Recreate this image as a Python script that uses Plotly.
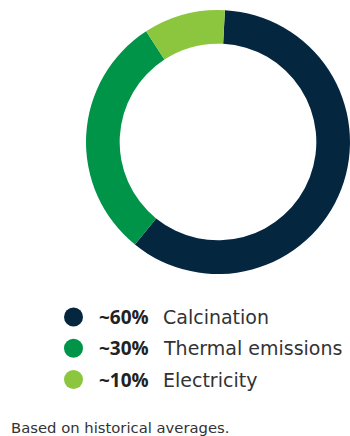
import plotly.graph_objects as go

# Emission sources and their approximate shares
categories = ["Calcination", "Thermal emissions", "Electricity"]
shares = [60, 30, 10]
share_labels = ["~60%", "~30%", "~10%"]
colors = ["#04263F", "#009448", "#8CC63F"]
footnote = "Based on historical averages."

W, H = 350, 436

fig = go.Figure()

fig.add_trace(go.Pie(
    values=shares,
    labels=categories,
    marker=dict(colors=colors, line=dict(width=0)),
    hole=0.745,
    sort=False,
    direction="clockwise",
    rotation=3,
    textinfo="none",
    hoverinfo="label+percent",
    showlegend=False,
    domain=dict(x=[86 / W, 350 / W], y=[(H - 274) / H, (H - 10) / H]),
))

# Custom legend rows drawn on a pixel-scaled overlay axis
row_y0, row_step = 317, 31.25
rows_y = [row_y0 + i * row_step for i in range(len(categories))]

fig.add_trace(go.Scatter(
    x=[73.5] * len(categories),
    y=rows_y,
    mode="markers",
    marker=dict(size=19, color=colors, line=dict(width=0)),
    hoverinfo="skip",
    showlegend=False,
    cliponaxis=False,
))

annotations = []
for lab, name, y in zip(share_labels, categories, rows_y):
    annotations.append(dict(
        x=97, y=y, xref="x", yref="y", text="<b>" + lab + "</b>",
        showarrow=False, xanchor="left", yanchor="middle",
        font=dict(family="Open Sans", size=19, color="#222222"),
    ))
    annotations.append(dict(
        x=160.5, y=y, xref="x", yref="y", text=name,
        showarrow=False, xanchor="left", yanchor="middle",
        font=dict(family="DejaVu Sans", size=19, color="#333333"),
    ))

annotations.append(dict(
    x=9, y=427, xref="x", yref="y", text=footnote,
    showarrow=False, xanchor="left", yanchor="middle",
    font=dict(family="DejaVu Sans", size=14.8, color="#333333"),
))

fig.update_layout(
    width=W, height=H,
    margin=dict(l=0, r=0, t=0, b=0),
    paper_bgcolor="white",
    plot_bgcolor="rgba(0,0,0,0)",
    xaxis=dict(range=[0, W], visible=False, fixedrange=True),
    yaxis=dict(range=[H, 0], visible=False, fixedrange=True),
    annotations=annotations,
)

fig.write_html("out.html")
